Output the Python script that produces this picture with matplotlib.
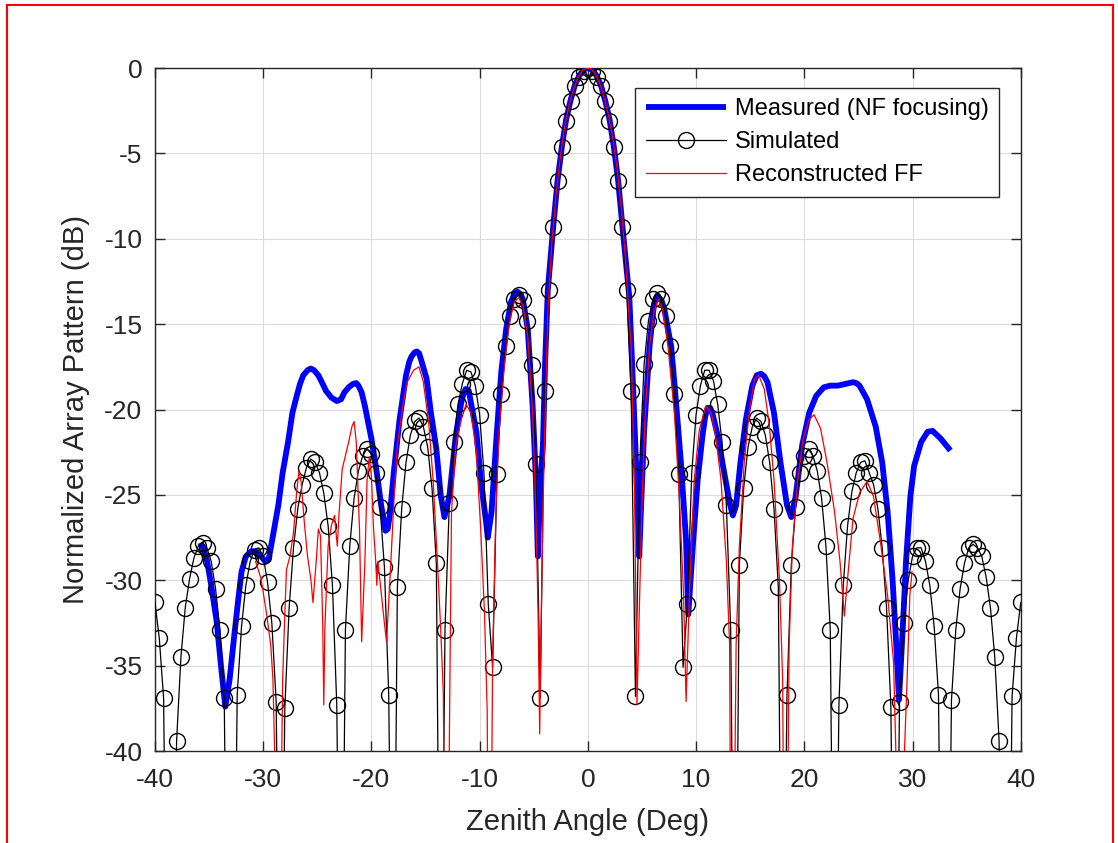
import numpy as np
import matplotlib
matplotlib.use("Agg")
import matplotlib.pyplot as plt
from matplotlib.lines import Line2D

plt.rcParams['font.family'] = ['Liberation Sans', 'DejaVu Sans']
plt.rcParams['axes.unicode_minus'] = False

# Simulated pattern, sampled every 0.4 deg from -40 to 40 (-60 = below the plot)
sim_deg = np.linspace(-40, 40, 201)
sim_db = [
    -31.3, -33.4, -36.9, -60, -60, -39.4, -34.5, -31.6, -29.9, -28.7,
    -28.0, -27.8, -28.1, -28.9, -30.5, -32.9, -36.9, -60, -60, -36.7,
    -32.7, -30.3, -28.9, -28.2, -28.1, -28.6, -30.1, -32.5, -37.1, -60,
    -37.5, -31.6, -28.1, -25.8, -24.4, -23.4, -22.9, -23.1, -23.7, -24.9,
    -26.8, -30.3, -37.3, -60, -32.9, -28.0, -25.2, -23.6, -22.7, -22.3,
    -22.6, -23.7, -25.7, -29.2, -36.7, -60, -30.4, -25.8, -23.1, -21.5,
    -20.7, -20.5, -21.0, -22.2, -24.6, -29.0, -60, -32.9, -25.5, -21.9,
    -19.7, -18.5, -17.7, -17.8, -18.6, -20.3, -23.7, -31.4, -35.1, -23.8,
    -19.1, -16.3, -14.5, -13.5, -13.3, -13.6, -14.8, -17.4, -23.2, -36.9,
    -18.9, -13.0, -9.3, -6.6, -4.6, -3.1, -1.95, -1.05, -0.5, -0.15,
    0.0,
    -0.15, -0.5, -1.05, -1.95, -3.1, -4.6, -6.6, -9.3, -13.0, -18.9,
    -36.8, -23.1, -17.35, -14.8, -13.55, -13.2, -13.55, -14.5, -16.3, -19.1,
    -23.8, -35.1, -31.4, -23.7, -20.3, -18.6, -17.7, -17.7, -18.3, -19.7,
    -21.9, -25.6, -32.9, -60, -29.1, -24.6, -22.2, -21.0, -20.5, -20.7,
    -21.5, -23.1, -25.8, -30.4, -60, -36.7, -29.1, -25.7, -23.7, -22.7,
    -22.3, -22.7, -23.6, -25.2, -28.0, -32.9, -60, -37.3, -30.3, -26.8,
    -24.8, -23.7, -23.1, -23.0, -23.7, -24.4, -25.8, -28.1, -31.6, -37.4,
    -60, -37.1, -32.5, -30.0, -28.6, -28.1, -28.1, -28.9, -30.3, -32.7,
    -36.7, -60, -60, -37.0, -32.9, -30.5, -29.0, -28.1, -27.9, -28.1,
    -28.6, -29.8, -31.6, -34.5, -39.4, -60, -60, -36.8, -33.4, -31.3,
]

# Measured (NF focusing)
meas_deg = [-35.8, -35.5, -35.2, -34.8, -34.3, -33.9, -33.5, -33.1, -32.7, -32.3, -32.0,
            -31.6, -31.1, -30.7, -30.2, -29.8, -29.5, -29.1, -28.6, -28.2, -27.7,
            -27.3, -26.9, -26.6, -26.3, -25.9, -25.6, -25.3, -24.9, -24.5, -24.2, -23.7,
            -23.2, -22.8, -22.5, -22.1, -21.7, -21.4, -21.2, -20.9, -20.6, -20.0, -19.5,
            -19.1, -18.7, -18.5, -18.3, -17.9, -17.4, -16.8, -16.5, -16.3,
            -16.0, -15.8, -15.6, -15.4, -14.9, -14.5, -14.0, -13.6, -13.25, -12.8, -12.2,
            -11.7, -11.5, -11.3, -11.0, -10.8, -10.3, -9.9, -9.4, -9.25, -8.9, -8.45, -8.0,
            -7.55, -7.1, -6.8, -6.5, -6.2, -6.0, -5.55, -5.1, -4.8, -4.62, -4.4, -4.15,
            -3.95, -3.7, -3.2, -2.8, -2.4, -2.0, -1.6, -1.2, -0.8, -0.4, 0.0,
            0.4, 0.8, 1.2, 1.6, 2.0, 2.4, 2.8, 3.2, 3.83, 4.15,
            4.45, 4.75, 4.9, 5.2, 5.7, 6.1, 6.3, 6.5, 6.8, 7.06, 7.7, 8.1,
            8.6, 9.07, 9.28, 9.7, 10.15, 10.6, 10.85, 11.07, 11.3, 11.5, 11.99, 12.6,
            13.15, 13.4, 13.7, 14.1, 14.6, 15.2, 15.6, 16.0, 16.3, 16.6, 17.2, 17.8,
            18.4, 18.8, 19.2, 19.8, 20.45, 21.1, 21.8, 22.4, 23.1, 23.8, 24.5, 24.8, 25.1,
            25.8, 26.6, 27.2, 27.7, 28.15, 28.5, 28.75, 29.1, 29.4, 29.8,
            30.15, 30.8, 31.4, 31.85, 32.6, 33.5]
meas_db = [-27.8, -28.2, -28.8, -30.3, -32.4, -35.0, -37.4, -35.8, -33.4, -31.1, -29.5,
           -28.6, -28.3, -28.3, -28.6, -28.9, -28.8, -27.4, -25.6, -23.7, -21.9,
           -20.2, -19.2, -18.5, -18.0, -17.7, -17.6, -17.7, -18.0, -18.5, -18.9, -19.3,
           -19.5, -19.4, -19.0, -18.7, -18.5, -18.45, -18.6, -19.0, -19.8, -21.7, -23.7,
           -25.6, -27.1, -27.0, -26.2, -23.5, -20.6, -18.0, -17.2, -16.9,
           -16.65, -16.6, -16.7, -17.1, -18.2, -20.2, -22.3, -25.0, -26.3, -25.1, -21.5,
           -19.6, -19.1, -18.8, -18.9, -19.6, -21.3, -24.1, -26.6, -27.5, -26.0, -21.7, -17.8,
           -15.3, -13.7, -13.25, -13.1, -13.25, -13.55, -15.3, -19.8, -24.1, -28.6, -24.5, -22.1,
           -17.3, -13.0, -9.3, -6.6, -4.6, -3.0, -1.9, -1.0, -0.45, -0.1, 0.0,
           -0.1, -0.45, -1.0, -1.9, -3.0, -4.6, -6.6, -9.3, -13.4, -18.2,
           -23.1, -28.6, -26.0, -21.2, -16.3, -13.9, -13.5, -13.4, -13.6, -14.1, -16.3, -19.2,
           -23.1, -27.6, -32.0, -28.0, -24.1, -21.5, -20.4, -19.9, -19.9, -20.2, -21.5, -23.7,
           -25.6, -26.2, -25.6, -23.1, -20.6, -18.6, -18.0, -17.9, -18.05, -18.4, -20.2, -23.1,
           -25.6, -26.3, -25.1, -22.1, -20.2, -19.2, -18.7, -18.6, -18.6, -18.5, -18.4, -18.45, -18.6,
           -19.4, -21.0, -23.1, -26.0, -29.9, -33.8, -37.0, -32.8, -28.9, -25.1,
           -23.3, -21.9, -21.3, -21.25, -21.7, -22.4]

# Reconstructed FF
rec_deg = [-30.7, -30.2, -29.7, -29.3, -29.1, -28.9, -28.6, -28.3, -28.2, -28.0,
           -27.85, -27.5, -27.2, -26.9, -26.7, -26.5, -26.2, -25.9, -25.6, -25.4,
           -25.1, -24.9, -24.7, -24.5, -24.4, -24.3, -24.0, -23.7, -23.4, -23.3,
           -23.15, -23.0, -22.7, -22.4, -22.1, -21.8, -21.6, -21.4, -21.1, -20.9,
           -20.6, -20.4, -20.2, -20.0, -19.8, -19.6, -19.5, -19.4, -19.2, -19.0,
           -18.8, -18.6, -18.2, -17.9, -17.6, -17.1, -16.7, -16.1, -15.6, -15.2,
           -14.7, -14.3, -13.9, -13.6, -13.35, -13.1, -12.6, -12.2, -11.7, -11.25,
           -10.8, -10.3, -9.9, -9.55, -9.3, -9.1, -8.8, -8.5, -8.2, -7.7,
           -7.25, -6.8, -6.4, -6.0, -5.55, -5.1, -4.8, -4.6, -4.45, -4.3,
           -4.15, -3.95, -3.7, -3.3, -2.9, -2.5, -2.1, -1.7, -1.3, -0.9,
           -0.5, -0.1, 0.3, 0.7, 1.1, 1.5, 1.9, 2.3, 2.7, 3.1,
           3.5, 3.8, 4.0, 4.3, 4.45, 4.54, 4.75, 4.98, 5.3, 5.7,
           6.1, 6.5, 6.9, 7.4, 8.0, 8.45, 8.85, 9.08, 9.4, 9.83,
           10.3, 10.9, 11.4, 11.8, 12.3, 12.8, 13.1, 13.3, 13.7, 14.0,
           14.45, 14.9, 15.4, 15.8, 16.3, 16.75, 17.2, 17.7, 18.0, 18.25,
           18.6, 18.9, 19.4, 19.9, 20.45, 20.9, 21.5, 22.1, 22.8, 23.3,
           23.7, 24.0, 24.5, 25.1, 25.8, 26.4, 27.0, 27.7, 28.25, 28.5,
           28.85, 29.2, 29.5, 29.75, 29.95]
rec_db = [-28.9, -29.9, -31.9, -33.8, -35.8, -41.0, -50.0, -41.0, -35.8, -32.0,
          -29.4, -28.5, -27.2, -24.8, -23.6, -24.2, -26.6, -28.6, -29.9, -31.3,
          -28.9, -27.0, -27.4, -32.5, -37.3, -32.8, -28.0, -26.8, -26.2, -27.0,
          -28.0, -26.2, -23.5, -22.7, -21.9, -21.0, -20.7, -21.9, -27.0, -33.6,
          -28.9, -24.1, -22.8, -23.9, -27.0, -28.9, -30.3, -28.9, -30.1, -31.3,
          -32.5, -33.6, -28.9, -25.1, -22.1, -19.8, -18.4, -17.7, -17.5, -18.4,
          -20.8, -24.1, -28.9, -32.8, -36.7, -60.0, -26.0, -22.1, -20.6, -19.7,
          -20.2, -22.5, -27.0, -31.9, -37.7, -60.0, -34.8, -26.0, -21.2, -17.3,
          -14.9, -13.7, -13.45, -13.9, -15.7, -20.2, -26.0, -31.9, -39.0, -31.9,
          -26.0, -20.2, -14.3, -10.0, -7.2, -5.0, -3.3, -2.1, -1.2, -0.55,
          -0.15, 0.0, -0.05, -0.35, -0.9, -1.7, -2.75, -4.1, -5.9, -8.3,
          -11.4, -14.5, -16.3, -24.1, -31.9, -37.3, -31.9, -26.0, -20.2, -16.3,
          -14.3, -13.55, -14.1, -16.3, -20.2, -25.1, -30.9, -37.1, -30.5, -24.1,
          -21.2, -19.8, -20.2, -21.5, -24.1, -28.9, -33.8, -60.0, -33.8, -28.0,
          -23.1, -20.2, -18.2, -18.0, -18.8, -20.8, -24.1, -29.9, -35.8, -60.0,
          -33.8, -28.0, -24.1, -21.7, -20.6, -20.3, -21.1, -23.1, -26.0, -28.9,
          -32.1, -29.9, -26.4, -24.9, -24.2, -25.1, -27.6, -30.9, -34.8, -41.0,
          -60.0, -41.0, -35.8, -30.9, -29.5]

x_ticks = [-40, -30, -20, -10, 0, 10, 20, 30, 40]
y_ticks = [-40, -35, -30, -25, -20, -15, -10, -5, 0]

fig = plt.figure(figsize=(11.18, 8.43), dpi=100)
ax = fig.add_axes([0.1386, 0.1091, 0.7744, 0.8102])

ax.plot(meas_deg, meas_db, color='#0000ff', lw=4.2, solid_capstyle='butt',
        solid_joinstyle='round', label='Measured (NF focusing)', zorder=3)
ax.plot(sim_deg, sim_db, color='black', lw=0.9, marker='o', ms=11.5,
        mfc='none', mec='black', mew=1.0, label='Simulated', zorder=4)
ax.plot(rec_deg, rec_db, color='#ff0000', lw=0.9, label='Reconstructed FF', zorder=5)

ax.set_xlim(-40, 40)
ax.set_ylim(-40, 0)
ax.set_xticks(x_ticks)
ax.set_yticks(y_ticks)
ax.grid(True, color='#dcdcdc', lw=0.8)
ax.set_axisbelow(True)
ax.tick_params(direction='in', length=7, width=1.0, colors='#262626',
               labelsize=19, top=True, right=True, pad=9)
ax.tick_params(axis='x', pad=12)
for s in ax.spines.values():
    s.set_color('#262626')
    s.set_linewidth(1.0)

ax.set_xlabel('Zenith Angle (Deg)', fontsize=21, color='#262626', labelpad=12)
ax.set_ylabel('Normalized Array Pattern (dB)', fontsize=21, color='#262626', labelpad=10)

leg = ax.legend(loc='upper right', bbox_to_anchor=(0.975, 0.971), borderaxespad=0,
                fontsize=17, numpoints=1, handlelength=3.4, labelspacing=0.46,
                fancybox=False, framealpha=1, edgecolor='#262626', borderpad=0.45,
                handletextpad=0.35)
leg.get_frame().set_linewidth(1.0)

# red frame around the figure
W, H = 1118.0, 843.0
fr = dict(color='#ff0000', lw=1.5, transform=fig.transFigure)
fig.add_artist(Line2D([7 / W, 1113 / W], [1 - 5 / H, 1 - 5 / H], **fr))
fig.add_artist(Line2D([7 / W, 7 / W], [0, 1 - 5 / H], **fr))
fig.add_artist(Line2D([1113 / W, 1113 / W], [0, 1 - 5 / H], **fr))

fig.savefig('out.png', dpi=100)
